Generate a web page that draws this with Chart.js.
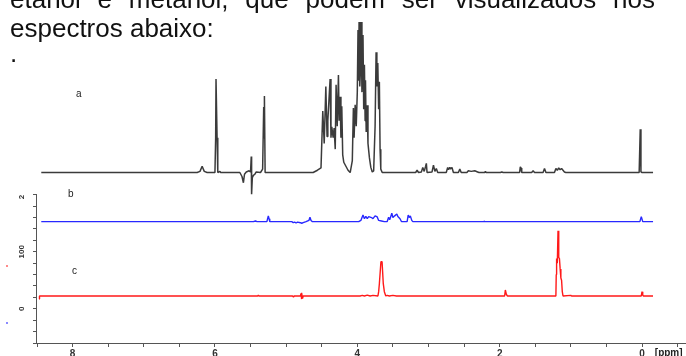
<!DOCTYPE html>
<html>
<head>
<meta charset="utf-8">
<script src="https://cdn.jsdelivr.net/npm/chart.js@4.4.1/dist/chart.umd.min.js"></script>
<style>
  html, body { margin: 0; padding: 0; background: #fff; }
  #wrap { position: relative; width: 686px; height: 356px; overflow: hidden; }
  #myChart { position: absolute; left: 0; top: 0; }
  .txt { position: absolute; font-family: "Liberation Sans", Arial, sans-serif; font-size: 26px; line-height: 26px; color: #111; }
  #line1 { left: 10px; top: -14px; width: 645px; text-align: justify; text-align-last: justify; }
  #line2 { left: 10px; top: 15px; white-space: nowrap; }
  #line3 { left: 10px; top: 40px; }
</style>
</head>
<body>
<div id="wrap">
  <canvas id="myChart" width="686" height="356"></canvas>
  <div class="txt" id="line1">etanol e metanol, que podem ser visualizados nos</div>
  <div class="txt" id="line2">espectros abaixo:</div>
  <div class="txt" id="line3">.</div>
</div>
<script>
// spectrum a (offset up the same axis, baseline ~239)
const aPpm = [8.44, 6.25, 6.21, 6.18, 6.15, 6.11, 6.00, 5.99, 5.985, 5.975, 5.97, 5.96, 5.93, 5.92,
  5.65, 5.62, 5.60, 5.585, 5.56, 5.52, 5.50, 5.49, 5.485, 5.475, 5.46, 5.44, 5.42, 5.36, 5.33, 5.315, 5.31, 5.305, 5.295, 5.25,
  4.62, 4.56, 4.51, 4.485, 4.465, 4.442, 4.425, 4.414, 4.382, 4.37, 4.358, 4.34, 4.326, 4.31, 4.298, 4.282, 4.265, 4.255, 4.242, 4.23, 4.218, 4.205, 4.19, 4.16, 4.13, 4.10,
  4.07, 4.055, 4.045, 4.03, 4.015, 4.00, 3.99, 3.983, 3.975, 3.965, 3.955, 3.945, 3.935, 3.92, 3.91, 3.90, 3.89, 3.885, 3.875, 3.862, 3.85, 3.83, 3.81, 3.79, 3.77,
  3.75, 3.736, 3.725, 3.712, 3.70, 3.69, 3.68, 3.67, 3.65,
  3.18, 3.16, 3.14, 3.10, 3.08, 3.06, 3.04, 3.03, 3.02, 2.95, 2.93, 2.91, 2.89, 2.87,
  2.75, 2.73, 2.72, 2.70, 2.69, 2.67, 2.65, 2.58, 2.56, 2.54, 2.46, 2.44, 2.40, 2.35, 2.31, 2.29, 2.21, 2.20, 2.19,
  1.99, 1.97, 1.95, 1.72, 1.71, 1.70, 1.69, 1.55, 1.53, 1.51, 1.39, 1.37, 1.35,
  1.23, 1.21, 1.19, 1.17, 1.15, 1.13, 1.11, 1.09, 1.07,
  0.04, 0.025, 0.015, 0.0, -0.155];
const aInt = [239, 239, 241, 250, 241, 239, 239, 300, 403, 403, 300, 239, 241, 239,
  239, 232, 221, 236, 240, 242, 240, 267, 201, 230, 234, 236, 240, 239, 245, 354, 300, 373, 239, 239,
  239, 243, 247, 347, 290, 390, 302, 330, 403, 300, 319, 300, 317, 280, 393, 320, 410, 330, 372, 300, 355, 270, 257, 250, 243, 239,
  260, 352, 300, 358, 320, 380, 489, 400, 503, 390, 420, 503, 380, 480, 350, 428, 330, 401, 310, 357, 290, 265, 248, 240, 242,
  320, 450, 390, 431, 350, 398, 280, 245, 239,
  239, 243, 239, 240, 248, 241, 250, 255, 239, 240, 252, 241, 246, 239,
  239, 248, 244, 248, 245, 248, 239, 239, 245, 239, 239, 242, 241, 242, 240, 239, 239, 241, 239,
  239, 240, 239, 239, 249, 247, 239, 239, 242, 239, 239, 246, 239,
  239, 246, 243, 247, 244, 246, 243, 240, 239,
  239, 315, 240, 239, 239];

// spectrum b (blue)
const bPpm = [8.44, 5.46, 5.43, 5.41, 5.27, 5.26, 5.25, 5.24, 5.23, 4.92, 4.90, 4.88, 4.86, 4.84, 4.80, 4.78, 4.76, 4.72, 4.68, 4.665, 4.65, 4.63,
  3.98, 3.95, 3.92, 3.90, 3.88, 3.86, 3.84, 3.80, 3.78, 3.75, 3.72, 3.70, 3.66, 3.62, 3.58, 3.56, 3.545, 3.515, 3.50, 3.475, 3.445, 3.43, 3.40, 3.38,
  3.30, 3.285, 3.27, 3.255, 3.235, 3.22, 2.23, 2.22, 2.21, 0.03, 0.01, -0.01, -0.155];
const bInt = [152.8, 152.8, 154, 152.8, 152.8, 158, 163, 158, 152.8, 152.8, 151, 152, 150.5, 152, 151, 150, 151, 152.8, 155, 160.5, 155, 152.8,
  152.8, 155, 164.5, 158, 162, 158, 161.6, 160, 158, 163, 161, 155, 154, 152.8, 153, 160.5, 156, 167.5, 160, 163, 166.3, 162, 158, 153,
  152.8, 164.5, 160, 163, 155, 152.8, 152.8, 154, 152.8, 152.8, 161.6, 152.8, 152.8];

// spectrum c (red)
const cPpm = [8.47, 8.465, 5.40, 5.39, 5.38, 4.91, 4.90, 4.89, 4.80, 4.79, 4.785, 4.78, 4.77, 4.76,
  3.96, 3.93, 3.90, 3.86, 3.82, 3.78, 3.71, 3.70, 3.69, 3.668, 3.652, 3.635, 3.62, 3.60, 3.58, 3.55, 3.50, 3.45,
  1.93, 1.92, 1.905, 1.89, 1.21, 1.205, 1.20, 1.19, 1.18, 1.17, 1.16, 1.15, 1.14, 1.13, 1.12, 1.11, 1.0, 0.99,
  0.01, 0.0, -0.01, -0.02, -0.155];
const cInt = [17, 22.5, 22.5, 24, 22.5, 22.5, 21, 22.5, 22.5, 27, 17, 28, 18, 22.5,
  22.5, 23.5, 22.5, 24, 22.5, 23.5, 22.5, 30, 44, 82.6, 82.6, 44, 30, 22.5, 23.5, 22.5, 23.5, 22.5,
  22.5, 33, 25, 22.5, 22.5, 60, 88, 80, 137, 90, 88, 70, 54, 50, 30, 22.5, 23.5, 22.5,
  22.5, 30, 24, 22.5, 22.5];

const xLabels = [8, 6, 4, 2, 0];
const yLabels = { 0: '0', 100: '100', 200: '2  ' };
const traceNames = ['a', 'b', 'c'];

function zip(px, py) {
  return px.map(function (p, i) { return { x: p, y: py[i] }; });
}

const notes = {
  id: 'notes',
  afterDraw(chart) {
    const ctx = chart.ctx;
    const y = chart.scales.y;
    const x = chart.scales.x;
    const area = chart.chartArea;
    ctx.save();
    // left axis only covers the lower panel
    ctx.strokeStyle = '#555';
    ctx.lineWidth = 1;
    ctx.beginPath();
    ctx.moveTo(area.left - 0.5, y.getPixelForValue(200));
    ctx.lineTo(area.left - 0.5, area.bottom);
    ctx.stroke();

    ctx.fillStyle = '#222';
    ctx.font = '10px "Liberation Sans", Arial, sans-serif';
    ctx.textBaseline = 'alphabetic';
    ctx.fillText(traceNames[0], 76, 97);
    ctx.fillText(traceNames[1], 68, 197);
    ctx.fillText(traceNames[2], 72, 274);

    ctx.font = 'bold 10px "Liberation Sans", Arial, sans-serif';
    ctx.textBaseline = 'top';
    ctx.fillText('[ppm]', x.getPixelForValue(-0.18), 348);

    ctx.fillStyle = 'rgba(255,60,60,0.6)';
    ctx.fillRect(6, 265, 2, 2);
    ctx.fillStyle = 'rgba(60,60,255,0.6)';
    ctx.fillRect(6, 322, 2, 2);
    ctx.restore();
  }
};

new Chart(document.getElementById('myChart'), {
  type: 'scatter',
  data: {
    datasets: [
      { data: zip(aPpm, aInt), borderColor: 'rgba(25,25,25,0.85)', borderWidth: 1.5 },
      { data: zip(bPpm, bInt), borderColor: 'rgb(40,40,255)', borderWidth: 1.4 },
      { data: zip(cPpm, cInt), borderColor: 'rgb(255,25,25)', borderWidth: 1.4 }
    ]
  },
  options: {
    responsive: false,
    animation: false,
    devicePixelRatio: 1,
    showLine: true,
    elements: { point: { radius: 0 }, line: { tension: 0, borderJoinStyle: 'bevel' } },
    layout: { padding: { top: 18, right: 0, left: 0, bottom: 0 } },
    plugins: { legend: { display: false }, tooltip: { enabled: false } },
    scales: {
      x: {
        type: 'linear',
        reverse: true,
        min: -0.618,
        max: 8.5,
        afterFit: function (scale) { scale.height = 13; },
        border: { display: true, color: '#555', width: 1 },
        grid: { drawOnChartArea: false, tickLength: 4, color: '#555' },
        ticks: {
          stepSize: 0.5,
          includeBounds: false,
          autoSkip: false,
          maxRotation: 0,
          padding: 1,
          color: '#333',
          font: { family: '"Liberation Sans", Arial, sans-serif', size: 10, weight: 'bold' },
          callback: function (v) {
            const r = Math.round(v);
            return (Math.abs(v - r) < 1e-6 && xLabels.indexOf(r) >= 0) ? String(r) : '';
          }
        }
      },
      y: {
        type: 'linear',
        min: -60,
        max: 510,
        afterFit: function (scale) { scale.width = 37; },
        border: { display: false },
        grid: {
          drawOnChartArea: false,
          tickLength: 4,
          color: function (c) { return (c.tick && c.tick.value > 200) ? 'rgba(0,0,0,0)' : '#555'; }
        },
        ticks: {
          stepSize: 20,
          includeBounds: false,
          autoSkip: false,
          minRotation: 90,
          maxRotation: 90,
          crossAlign: 'center',
          padding: 5,
          color: '#333',
          font: { family: '"Liberation Sans", Arial, sans-serif', size: 8, weight: 'bold' },
          callback: function (v) {
            const r = Math.round(v);
            return yLabels[r] !== undefined ? yLabels[r] : '';
          }
        }
      }
    }
  },
  plugins: [notes]
});
</script>
</body>
</html>
